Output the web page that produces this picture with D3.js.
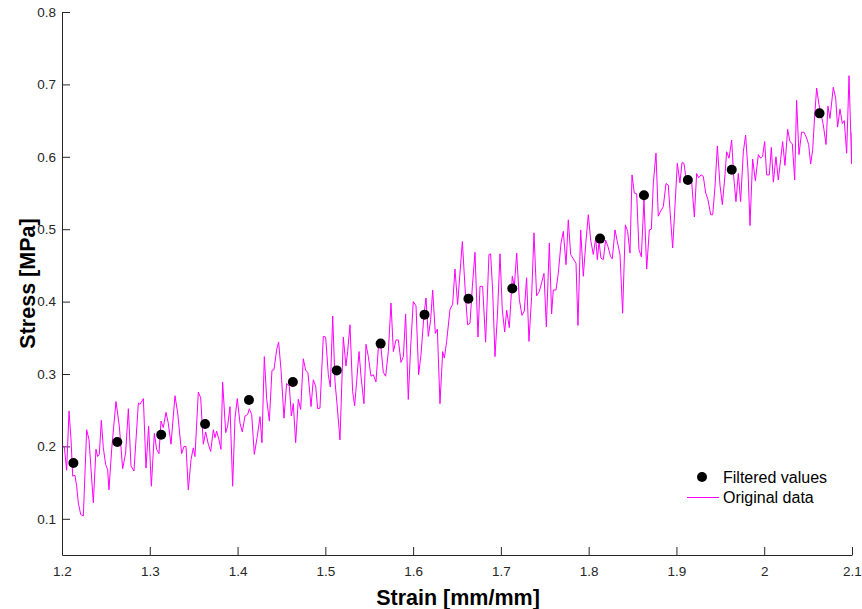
<!DOCTYPE html>
<html>
<head>
<meta charset="utf-8">
<script src="https://cdn.jsdelivr.net/npm/d3@7"></script>
<style>
  body { margin: 0; background: #fff; }
  svg { display: block; font-family: "Liberation Sans", Arial, sans-serif; }
  .axis path, .axis line { stroke: #262626; }
  .axis text { fill: #262626; font-size: 13.5px; }
</style>
</head>
<body>
<svg id="chart"></svg>
<script>
const WIDTH = 862;
const HEIGHT = 609;
const MARGIN = { top: 12, right: 10, bottom: 54, left: 62 };

// filtered values (black dots)
const filteredStrain = [1.213, 1.263, 1.313, 1.363, 1.413, 1.463, 1.513, 1.563,
  1.613, 1.663, 1.713, 1.813, 1.863, 1.913, 1.963, 2.063];
const filteredStress = [0.177, 0.206, 0.216, 0.231, 0.264, 0.289, 0.305, 0.342,
  0.382, 0.404, 0.418, 0.487, 0.547, 0.568, 0.582, 0.660];

// original data (magenta line)
const origStrain = [
  1.2008,1.2027,1.2053,1.2080,1.2103,1.2122,1.2148,1.2167,1.2186,1.2213,
  1.2243,1.2281,1.2308,1.2357,1.2387,1.2406,1.2425,1.2448,1.2471,1.2497,
  1.2520,1.2535,1.2566,1.2615,1.2653,1.2691,1.2725,1.2756,1.2786,1.2820,
  1.2870,1.2889,1.2927,1.2957,1.2987,1.3018,1.3052,1.3078,1.3105,1.3128,
  1.3154,1.3185,1.3211,1.3242,1.3287,1.3318,1.3363,1.3390,1.3413,1.3439,
  1.3470,1.3496,1.3515,1.3553,1.3580,1.3610,1.3637,1.3667,1.3694,1.3724,
  1.3743,1.3762,1.3789,1.3811,1.3830,1.3865,1.3887,1.3914,1.3944,1.3971,
  1.3997,1.4028,1.4054,1.4085,1.4115,1.4134,1.4161,1.4191,1.4225,1.4256,
  1.4278,1.4305,1.4332,1.4362,1.4392,1.4415,1.4446,1.4468,1.4495,1.4529,
  1.4559,1.4590,1.4613,1.4635,1.4662,1.4692,1.4719,1.4749,1.4776,1.4802,
  1.4837,1.4863,1.4890,1.4913,1.4939,1.4977,1.5004,1.5034,1.5057,1.5084,
  1.5110,1.5137,1.5167,1.5205,1.5235,1.5254,1.5281,1.5311,1.5334,1.5357,
  1.5384,
  1.5406,1.5440,1.5463,1.5490,1.5520,1.5547,1.5577,1.5604,1.5630,1.5661,
  1.5687,1.5718,1.5748,1.5775,1.5805,1.5832,1.5862,1.5889,1.5915,1.5945,
  1.5972,1.6002,1.6033,1.6063,1.6090,1.6124,1.6147,1.6173,1.6200,1.6223,
  1.6253,1.6276,1.6306,1.6337,1.6356,1.6382,1.6420,1.6450,1.6477,1.6507,
  1.6561,1.6599,1.6621,1.6648,1.6675,1.6705,1.6739,1.6762,1.6792,1.6826,
  1.6864,1.6883,1.6906,1.6933,1.6960,
  1.6990,1.7016,1.7043,1.7066,1.7096,1.7130,1.7153,1.7180,1.7210,1.7240,
  1.7267,1.7293,1.7320,1.7350,1.7377,1.7407,1.7438,1.7464,1.7491,1.7518,
  1.7552,1.7578,1.7597,1.7628,1.7654,1.7685,1.7711,1.7742,1.7768,1.7795,
  1.7825,1.7856,1.7878,1.7909,1.7939,1.7969,1.7996,1.8023,1.8053,1.8080,
  1.8099,1.8118,1.8140,1.8167,1.8193,1.8220,1.8250,1.8269,1.8300,1.8326,
  1.8357,1.8387,1.8418,1.8444,1.8471,1.8494,1.8520,1.8547,1.8573,
  1.8600,1.8630,1.8661,1.8691,1.8714,1.8737,1.8767,1.8793,1.8820,1.8850,
  1.8881,1.8907,1.8926,1.8957,1.8983,1.9010,1.9040,1.9063,1.9086,1.9116,
  1.9143,1.9173,1.9204,1.9230,1.9253,1.9280,1.9306,1.9333,1.9359,1.9390,
  1.9413,1.9439,1.9466,1.9496,1.9523,1.9553,1.9572,1.9599,1.9629,1.9652,
  1.9678,1.9705,1.9731,1.9762,1.9788,1.9815,1.9838,
  1.9868,1.9899,1.9933,1.9959,1.9982,2.0005,2.0028,2.0058,2.0081,2.0104,
  2.0134,2.0160,2.0187,2.0210,2.0236,2.0267,2.0293,2.0320,2.0347,2.0369,
  2.0396,2.0426,2.0453,2.0483,2.0506,2.0529,2.0552,2.0574,2.0597,2.0624,
  2.0647,2.0673,2.0704,2.0726,2.0749,2.0787,2.0814,2.0836,2.0863,2.0890,
  2.0912,2.0939,2.0966,2.0996,2.1000
];
const origStress = [
  0.201,0.199,0.167,0.249,0.209,0.159,0.160,0.145,0.122,0.106,
  0.104,0.223,0.209,0.122,0.196,0.186,0.189,0.236,0.198,0.175,
  0.168,0.140,0.196,0.262,0.228,0.169,0.191,0.252,0.173,0.166,
  0.260,0.258,0.266,0.170,0.228,0.145,0.218,0.196,0.190,0.235,
  0.226,0.247,0.232,0.203,0.270,0.246,0.190,0.200,0.200,0.140,
  0.182,0.198,0.186,0.275,0.267,0.203,0.220,0.203,0.193,0.223,
  0.212,0.221,0.209,0.196,0.289,0.219,0.228,0.255,0.145,0.239,
  0.266,0.232,0.220,0.242,0.244,0.252,0.244,0.189,0.214,0.241,
  0.205,0.324,0.265,0.235,0.305,0.306,0.334,0.344,0.306,0.239,
  0.287,0.283,0.242,0.259,0.205,0.265,0.251,0.321,0.305,0.302,
  0.255,0.292,0.283,0.252,0.253,0.352,0.351,0.299,0.282,0.380,
  0.290,0.253,0.209,0.351,0.311,0.331,0.368,0.276,0.256,0.290,
  0.331,
  0.297,0.259,0.341,0.324,0.297,0.299,0.289,0.336,0.341,0.302,
  0.297,0.331,0.398,0.331,0.347,0.347,0.316,0.324,0.383,0.265,
  0.337,0.400,0.394,0.299,0.327,0.382,0.405,0.352,0.375,0.416,
  0.356,0.362,0.259,0.331,0.322,0.345,0.389,0.396,0.445,0.396,
  0.483,0.404,0.368,0.370,0.421,0.468,0.351,0.421,0.421,0.344,
  0.465,0.466,0.416,0.324,0.380,
  0.466,0.389,0.358,0.388,0.364,0.435,0.421,0.467,0.403,0.381,
  0.387,0.433,0.345,0.407,0.495,0.408,0.414,0.426,0.439,0.365,
  0.481,0.383,0.416,0.416,0.439,0.481,0.497,0.451,0.513,0.465,
  0.459,0.453,0.367,0.499,0.435,0.483,0.520,0.485,0.465,0.488,
  0.458,0.483,0.460,0.458,0.485,0.476,0.462,0.459,0.499,0.483,
  0.465,0.384,0.506,0.497,0.467,0.575,0.550,0.549,0.472,
  0.462,0.541,0.445,0.499,0.500,0.564,0.605,0.518,0.525,0.531,
  0.563,0.561,0.527,0.474,0.531,0.591,0.564,0.592,0.591,0.563,
  0.568,0.566,0.517,0.577,0.571,0.575,0.573,0.550,0.541,0.520,
  0.520,0.558,0.615,0.561,0.534,0.575,0.607,0.598,0.623,0.573,
  0.538,0.577,0.538,0.607,0.630,0.582,0.505,
  0.597,0.567,0.603,0.598,0.601,0.621,0.575,0.575,0.613,0.565,
  0.600,0.568,0.596,0.621,0.588,0.638,0.621,0.618,0.568,0.678,
  0.603,0.634,0.634,0.626,0.617,0.590,0.610,0.655,0.695,0.672,
  0.659,0.644,0.617,0.670,0.653,0.696,0.681,0.641,0.666,0.646,
  0.650,0.605,0.712,0.590,0.634
];

const xTicks = [1.2, 1.3, 1.4, 1.5, 1.6, 1.7, 1.8, 1.9, 2.0, 2.1];
const yTicks = [0.1, 0.2, 0.3, 0.4, 0.5, 0.6, 0.7, 0.8];
const legendLabels = ["Filtered values", "Original data"];

const innerW = WIDTH - MARGIN.left - MARGIN.right;
const innerH = HEIGHT - MARGIN.top - MARGIN.bottom;

const svg = d3.select("#chart").attr("width", WIDTH).attr("height", HEIGHT);
const g = svg.append("g").attr("transform", `translate(${MARGIN.left},${MARGIN.top})`);

const x = d3.scaleLinear().domain([1.2, 2.1]).range([0, innerW]);
const y = d3.scaleLinear().domain([0.05, 0.8]).range([innerH, 0]);

g.append("clipPath").attr("id", "plot-clip")
  .append("rect").attr("width", innerW).attr("height", innerH);

// axes, ticks pointing inward
g.append("g")
  .attr("class", "axis")
  .attr("transform", `translate(0,${innerH})`)
  .call(d3.axisBottom(x).tickValues(xTicks).tickFormat(d3.format("")).tickSizeInner(-8).tickSizeOuter(0).tickPadding(11));

g.append("g")
  .attr("class", "axis")
  .call(d3.axisLeft(y).tickValues(yTicks).tickFormat(d3.format("")).tickSizeInner(-8).tickSizeOuter(0).tickPadding(6));

const pts = d3.zip(origStrain, origStress);

g.append("path")
  .datum(pts)
  .attr("clip-path", "url(#plot-clip)")
  .attr("fill", "none")
  .attr("stroke", "#ff00ff")
  .attr("stroke-width", 1)
  .attr("d", d3.line().x((d) => x(d[0])).y((d) => y(d[1])));

g.selectAll(".dot")
  .data(d3.zip(filteredStrain, filteredStress))
  .enter()
  .append("circle")
  .attr("class", "dot")
  .attr("cx", (d) => x(d[0]))
  .attr("cy", (d) => y(d[1]))
  .attr("r", 5)
  .attr("fill", "#000");

// axis titles
svg.append("text")
  .attr("x", MARGIN.left + innerW / 2 + 1)
  .attr("y", 605)
  .attr("text-anchor", "middle")
  .attr("font-weight", "bold")
  .attr("font-size", 21.5)
  .attr("fill", "#000")
  .text("Strain [mm/mm]");

svg.append("text")
  .attr("transform", `translate(35,${MARGIN.top + innerH / 2}) rotate(-90)`)
  .attr("text-anchor", "middle")
  .attr("font-weight", "bold")
  .attr("font-size", 21.5)
  .attr("fill", "#000")
  .text("Stress [MPa]");

// legend
const legend = svg.append("g").attr("transform", "translate(687,477)");
legend.append("circle").attr("cx", 15).attr("cy", 0).attr("r", 5).attr("fill", "#000");
legend.append("line")
  .attr("x1", 0).attr("x2", 32).attr("y1", 20.5).attr("y2", 20.5)
  .attr("stroke", "#ff00ff").attr("stroke-width", 1);
legend.selectAll("text")
  .data(legendLabels)
  .enter()
  .append("text")
  .attr("x", 36)
  .attr("y", (d, i) => i * 20.5 + 5.5)
  .attr("font-size", 16)
  .attr("fill", "#000")
  .text((d) => d);
</script>
</body>
</html>
